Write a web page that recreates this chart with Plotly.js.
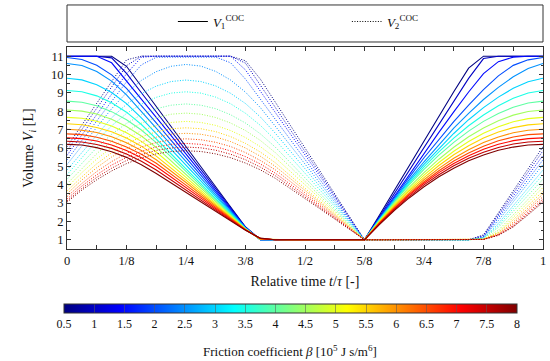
<!DOCTYPE html>
<html>
<head>
<meta charset="utf-8">
<script src="https://cdn.plot.ly/plotly-3.0.1.min.js"></script>
<style>html,body{margin:0;padding:0;background:#fff;}#chart{width:550px;height:361px;}</style>
</head>
<body>
<div id="chart"></div>
<script>
// relative time samples t/tau
const tGrid = [0,0.03125,0.0625,0.09375,0.125,0.15625,0.1875,0.21875,0.25,0.28125,0.3125,0.34375,0.375,0.40625,0.4375,0.46875,0.5,0.53125,0.5625,0.59375,0.625,0.65625,0.6875,0.71875,0.75,0.78125,0.8125,0.84375,0.875,0.90625,0.9375,0.96875,1];
const betas = [0.5,1,1.5,2,2.5,3,3.5,4,4.5,5,5.5,6,6.5,7,7.5,8];
const xTickVals = [0,0.125,0.25,0.375,0.5,0.625,0.75,0.875,1];
const xTickText = ['0','1/8','1/4','3/8','1/2','5/8','3/4','7/8','1'];
const yTickVals = [1,2,3,4,5,6,7,8,9,10,11];

// V1 (solid) per beta
const v1_b0_5 = [11,11,11,11,10.45,9.36,8.26,7.17,6.08,4.98,3.89,2.79,1.7,1,1,1,1,1,1,1,1,2.34,3.69,5.03,6.38,7.72,9.06,10.35,11,11,11,11,11];
const v1_b1_0 = [11,11,11,10.91,10.06,9.01,7.97,6.92,5.87,4.83,3.78,2.73,1.69,1,1,1,1,1,1,1,1,2.26,3.51,4.77,6.03,7.28,8.54,9.79,10.87,11,11,11,11];
const v1_b1_5 = [11,11,11,10.64,9.67,8.67,7.67,6.67,5.67,4.67,3.67,2.67,1.67,1,1,1,1,1,1,1,1,2.2,3.38,4.55,5.7,6.85,7.97,9.05,10.05,10.7,10.95,11,11];
const v1_b2_0 = [10.93,10.82,10.51,9.98,9.25,8.33,7.37,6.42,5.47,4.51,3.56,2.61,1.66,1,1,1,1,1,1,1,1,2.17,3.31,4.4,5.47,6.48,7.44,8.34,9.18,9.93,10.5,10.8,10.93];
const v1_b2_5 = [10.6,10.49,10.17,9.64,8.89,7.98,7.08,6.17,5.27,4.36,3.45,2.55,1.64,1,1,1,1,1,1,1,1,2.13,3.22,4.26,5.25,6.19,7.08,7.89,8.64,9.3,9.88,10.33,10.6];
const v1_b3_0 = [9.8,9.71,9.45,9.02,8.42,7.64,6.78,5.92,5.06,4.2,3.34,2.48,1.63,1.01,1,1,1,1,1,1,1,2.11,3.16,4.17,5.11,5.98,6.79,7.54,8.2,8.77,9.25,9.61,9.8];
const v1_b3_5 = [9.13,9.06,8.84,8.46,7.95,7.28,6.49,5.67,4.86,4.05,3.24,2.42,1.61,1.02,1,1,1,1,1,1,1,2.09,3.11,4.07,4.97,5.79,6.54,7.21,7.8,8.3,8.71,9,9.13];
const v1_b4_0 = [8.55,8.49,8.3,7.98,7.54,6.98,6.29,5.51,4.73,3.94,3.16,2.38,1.6,1.02,1,1,1,1,1,1,1,2.06,3.06,3.99,4.84,5.61,6.31,6.92,7.45,7.88,8.22,8.45,8.55];
const v1_b4_5 = [8.07,8.01,7.85,7.56,7.17,6.65,6.03,5.31,4.56,3.82,3.08,2.33,1.59,1.03,1,1,1,1,1,1,1,2.03,2.98,3.86,4.66,5.39,6.04,6.61,7.09,7.49,7.79,7.99,8.07];
const v1_b5_0 = [7.67,7.62,7.46,7.2,6.83,6.36,5.78,5.11,4.4,3.69,2.99,2.28,1.58,1.03,1,1,1,1,1,1,1,1.99,2.91,3.75,4.52,5.21,5.82,6.35,6.8,7.16,7.43,7.6,7.67];
const v1_b5_5 = [7.32,7.27,7.12,6.88,6.54,6.1,5.56,4.92,4.25,3.58,2.91,2.24,1.57,1.04,1,1,1,1,1,1,1,1.96,2.85,3.66,4.39,5.05,5.63,6.12,6.54,6.87,7.11,7.26,7.32];
const v1_b6_0 = [7.02,6.97,6.84,6.61,6.28,5.87,5.36,4.76,4.12,3.48,2.84,2.2,1.56,1.05,1,1,1,1,1,1,1,1.93,2.79,3.56,4.27,4.89,5.44,5.91,6.3,6.6,6.83,6.97,7.02];
const v1_b6_5 = [6.77,6.73,6.59,6.37,6.06,5.66,5.17,4.59,3.98,3.37,2.76,2.15,1.55,1.06,1,1,1,1,1,1,1,1.91,2.73,3.49,4.16,4.76,5.29,5.73,6.1,6.39,6.6,6.73,6.77];
const v1_b7_0 = [6.55,6.51,6.38,6.16,5.86,5.47,4.99,4.43,3.85,3.27,2.69,2.11,1.54,1.07,1,1,1,1,1,1,1,1.89,2.7,3.43,4.08,4.66,5.16,5.58,5.93,6.2,6.4,6.51,6.55];
const v1_b7_5 = [6.37,6.33,6.19,5.98,5.67,5.28,4.8,4.26,3.71,3.17,2.62,2.07,1.53,1.08,1,1,1,1,1,1,1,1.86,2.64,3.35,3.99,4.54,5.03,5.44,5.77,6.03,6.22,6.33,6.37];
const v1_b8_0 = [6.2,6.16,6.02,5.8,5.49,5.09,4.61,4.09,3.58,3.06,2.55,2.03,1.52,1.09,1,1,1,1,1,1,1,1.83,2.59,3.28,3.89,4.43,4.9,5.3,5.62,5.88,6.05,6.16,6.2];

// V2 (dotted) per beta
const v2_b0_5 = [6.07,7.27,8.47,9.67,10.8,11,11,11,11,11,11,11,10.75,9.75,8.5,7.25,6,4.75,3.5,2.25,1,1,1,1,1,1,1,1,1.27,2.47,3.67,4.87,6.07];
const v2_b1_0 = [5.85,7.01,8.16,9.32,10.48,11,11,11,11,11,11,11,10.62,9.42,8.22,7.02,5.81,4.61,3.41,2.2,1,1,1,1,1,1,1,1,1.23,2.38,3.54,4.69,5.85];
const v2_b1_5 = [5.6,6.71,7.82,8.93,10.04,10.94,11,11,11,11,11,11,10.25,9.09,7.94,6.78,5.63,4.47,3.31,2.16,1,1,1,1,1,1,1,1,1.18,2.27,3.38,4.49,5.6];
const v2_b2_0 = [5.35,6.41,7.48,8.54,9.6,10.53,10.94,10.95,10.95,10.95,10.95,10.64,9.75,8.66,7.56,6.47,5.38,4.28,3.19,2.09,1,1,1,1,1,1,1,1,1.15,2.16,3.23,4.29,5.35];
const v2_b2_5 = [5.1,6.12,7.13,8.14,9.01,9.68,10.16,10.45,10.55,10.46,10.17,9.7,9.04,8.2,7.19,6.16,5.13,4.09,3.06,2.03,1,1,1,1,1,1,1,1,1.13,2.05,3.07,4.08,5.1];
const v2_b3_0 = [4.8,5.77,6.74,7.65,8.38,8.96,9.37,9.62,9.7,9.62,9.38,8.98,8.42,7.69,6.81,5.84,4.88,3.91,2.94,1.97,1,1,1,1,1,1,1,1,1.09,1.89,2.86,3.83,4.8];
const v2_b3_5 = [4.55,5.47,6.39,7.21,7.88,8.39,8.76,8.99,9.06,8.99,8.77,8.41,7.89,7.23,6.44,5.53,4.63,3.72,2.81,1.91,1,1,1,1,1,1,1,1,1.09,1.78,2.71,3.63,4.55];
const v2_b4_0 = [4.3,5.18,6.02,6.75,7.34,7.81,8.14,8.33,8.4,8.33,8.14,7.81,7.36,6.77,6.05,5.22,4.38,3.53,2.69,1.84,1,1,1,1,1,1,1,1,1.08,1.68,2.55,3.43,4.3];
const v2_b4_5 = [4.05,4.89,5.69,6.37,6.92,7.35,7.65,7.84,7.9,7.84,7.66,7.36,6.95,6.41,5.75,4.98,4.19,3.39,2.59,1.8,1,1,1,1,1,1,1,1,1.05,1.52,2.36,3.21,4.05];
const v2_b5_0 = [3.85,4.66,5.4,6.03,6.54,6.94,7.22,7.39,7.45,7.39,7.23,6.95,6.57,6.07,5.47,4.75,4,3.25,2.5,1.75,1,1,1,1,1,1,1,1,1.04,1.41,2.23,3.04,3.85];
const v2_b5_5 = [3.65,4.43,5.14,5.74,6.23,6.61,6.88,7.05,7.1,7.05,6.89,6.62,6.25,5.78,5.2,4.52,3.81,3.11,2.41,1.7,1,1,1,1,1,1,1,1,1.03,1.39,2.09,2.87,3.65];
const v2_b6_0 = [3.5,4.26,4.93,5.51,5.97,6.33,6.59,6.75,6.8,6.75,6.6,6.35,6,5.55,5,4.36,3.69,3.02,2.34,1.67,1,1,1,1,1,1,1,1,1.02,1.32,1.97,2.73,3.5];
const v2_b6_5 = [3.35,4.07,4.72,5.26,5.71,6.05,6.3,6.45,6.5,6.45,6.31,6.08,5.75,5.32,4.81,4.2,3.56,2.92,2.28,1.64,1,1,1,1,1,1,1,1,1.03,1.31,1.88,2.62,3.35];
const v2_b7_0 = [3.22,3.93,4.54,5.07,5.49,5.82,6.06,6.2,6.25,6.2,6.07,5.84,5.53,5.13,4.63,4.05,3.44,2.83,2.22,1.61,1,1,1,1,1,1,1,1,1.02,1.27,1.79,2.5,3.22];
const v2_b7_5 = [3.12,3.8,4.4,4.9,5.32,5.64,5.87,6,6.05,6.01,5.88,5.66,5.36,4.96,4.49,3.92,3.34,2.75,2.17,1.58,1,1,1,1,1,1,1,1,1.02,1.26,1.73,2.42,3.12];
const v2_b8_0 = [3.05,3.71,4.27,4.75,5.15,5.46,5.68,5.81,5.85,5.81,5.68,5.47,5.18,4.81,4.35,3.81,3.25,2.69,2.13,1.56,1,1,1,1,1,1,1,1,1.02,1.24,1.7,2.36,3.05];

const v1List = [v1_b0_5,v1_b1_0,v1_b1_5,v1_b2_0,v1_b2_5,v1_b3_0,v1_b3_5,v1_b4_0,v1_b4_5,v1_b5_0,v1_b5_5,v1_b6_0,v1_b6_5,v1_b7_0,v1_b7_5,v1_b8_0];
const v2List = [v2_b0_5,v2_b1_0,v2_b1_5,v2_b2_0,v2_b2_5,v2_b3_0,v2_b3_5,v2_b4_0,v2_b4_5,v2_b5_0,v2_b5_5,v2_b6_0,v2_b6_5,v2_b7_0,v2_b7_5,v2_b8_0];

const bMin = 0.5, bMax = 8;
function clamp(v){ return Math.max(0, Math.min(1, v)); }
function jetColor(b){
  const f = (b - bMin) / (bMax - bMin);
  const r = clamp(1.5 - Math.abs(4*f - 3));
  const g = clamp(1.5 - Math.abs(4*f - 2));
  const bl = clamp(1.5 - Math.abs(4*f - 1));
  return 'rgb(' + Math.round(r*255) + ',' + Math.round(g*255) + ',' + Math.round(bl*255) + ')';
}
const jetScale = [[0,'rgb(0,0,128)'],[0.125,'rgb(0,0,255)'],[0.375,'rgb(0,255,255)'],[0.625,'rgb(255,255,0)'],[0.875,'rgb(255,0,0)'],[1,'rgb(128,0,0)']];

const FONT = 'Liberation Serif, DejaVu Serif, serif';
const DOT = '1px,1.6px';
const traces = [];
betas.forEach(function(b, k){
  const c = jetColor(b);
  traces.push({x: tGrid, y: v1List[k], type:'scatter', mode:'lines', line:{color:c, width:1.1}, showlegend:false, hoverinfo:'skip'});
  traces.push({x: tGrid, y: v2List[k], type:'scatter', mode:'lines', line:{color:c, width:1, dash:DOT}, showlegend:false, hoverinfo:'skip'});
});
// legend entries
traces.push({x:[null], y:[null], type:'scatter', mode:'lines', line:{color:'#000', width:1.2}, name:'<i>V</i><sub>1</sub><sup>COC</sup>', showlegend:true});
traces.push({x:[null], y:[null], type:'scatter', mode:'lines', line:{color:'#000', width:1, dash:DOT}, name:'<i>V</i><sub>2</sub><sup>COC</sup>', showlegend:true});
// colour bar
traces.push({x:[null,null], y:[null,null], type:'scatter', mode:'markers', showlegend:false, hoverinfo:'skip',
  marker:{color:[bMin,bMax], cmin:bMin, cmax:bMax, colorscale:jetScale, showscale:true,
    colorbar:{orientation:'h', x:-0.0063, xanchor:'left', y:-0.272, yanchor:'top', len:453, lenmode:'pixels',
      thickness:9, thicknessmode:'pixels', xpad:0, ypad:0, outlinewidth:1, outlinecolor:'#333',
      tickmode:'linear', tick0:0.5, dtick:0.5, ticks:'inside', ticklen:9, tickwidth:1, tickcolor:'rgba(90,90,90,0.55)',
      tickfont:{family:FONT, size:12, color:'#111'}}}});

const minorX = [0.0625,0.1875,0.3125,0.4375,0.5625,0.6875,0.8125,0.9375];
const minorY = [1.5,2.5,3.5,4.5,5.5,6.5,7.5,8.5,9.5,10.5];
const layout = {
  width:550, height:361,
  margin:{l:67, r:7, t:47, b:112, autoexpand:false},
  paper_bgcolor:'#fff', plot_bgcolor:'#fff',
  font:{family:FONT, size:12, color:'#111'},
  xaxis:{range:[0,1], tickmode:'array', tickvals:xTickVals, ticktext:xTickText, ticks:'inside', ticklen:4, tickcolor:'#333',
    showline:true, linecolor:'#333', linewidth:1, mirror:'allticks', showgrid:false, zeroline:false, automargin:false,
    minor:{tickmode:'array', tickvals:minorX, ticks:'inside', ticklen:4, tickcolor:'#333', showgrid:false},
    tickfont:{family:FONT, size:12.5, color:'#111'},
    title:{text:'Relative time <i>t</i>/<i>τ</i> [-]', font:{family:FONT, size:14, color:'#111'}, standoff:9}},
  yaxis:{range:[0.5,11.5], tickmode:'array', tickvals:yTickVals, ticks:'inside', ticklen:4, tickcolor:'#333',
    showline:true, linecolor:'#333', linewidth:1, mirror:'allticks', showgrid:false, zeroline:false, automargin:false,
    minor:{tickmode:'array', tickvals:minorY, ticks:'inside', ticklen:2.5, tickcolor:'#333', showgrid:false},
    tickfont:{family:FONT, size:12.5, color:'#111'},
    title:{text:'Volume <i>V<sub>i</sub></i> [L]', font:{family:FONT, size:14, color:'#111'}, standoff:14}},
  showlegend:true,
  legend:{orientation:'h', x:0.588, xanchor:'center', y:1.126, yanchor:'middle', bgcolor:'rgba(0,0,0,0)', borderwidth:0,
    entrywidth:129, entrywidthmode:'pixels', font:{family:FONT, size:13, color:'#111'}},
  annotations:[{text:'Friction coefficient <i>β</i> [10<sup>5</sup> J s/m<sup>6</sup>]', xref:'paper', yref:'paper',
    x:0.4685, y:-0.505, xanchor:'center', yanchor:'middle', showarrow:false, font:{family:FONT, size:13, color:'#111'}}],
  shapes:[{type:'rect', xref:'paper', yref:'paper', x0:0, x1:1, y0:1.0248, y1:1.208, line:{color:'#333', width:1}, fillcolor:'rgba(0,0,0,0)'}]
};
Plotly.newPlot('chart', traces, layout, {staticPlot:true, displayModeBar:false});
</script>
</body>
</html>
